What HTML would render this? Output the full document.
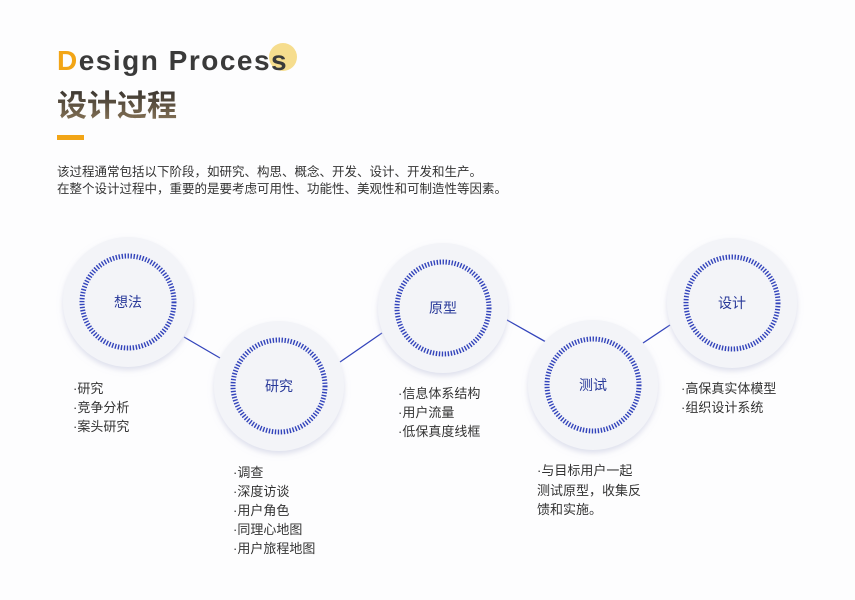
<!DOCTYPE html>
<html><head><meta charset="utf-8"><style>
body{margin:0;width:855px;height:600px;background:#fdfdfe;overflow:hidden;font-family:"Liberation Sans","Noto Sans CJK SC",sans-serif;}
svg{position:absolute;left:0;top:0}
.t{font-family:"Liberation Sans","Noto Sans CJK SC",sans-serif}
</style></head><body>
<svg width="855" height="600" viewBox="0 0 855 600">
<defs>
<linearGradient id="g" x1="0" y1="0" x2="0" y2="1"><stop offset="0" stop-color="#3a3530"/><stop offset="1" stop-color="#8a7658"/></linearGradient>
<filter id="sh" x="-30%" y="-30%" width="160%" height="160%"><feDropShadow dx="0" dy="3" stdDeviation="3" flood-color="#c8cbe0" flood-opacity="0.6"/></filter>
</defs>
<circle cx="283" cy="57" r="14" fill="#f6dd8e"/>
<text x="57" y="70" class="t" font-size="28" font-weight="bold" fill="#3a3a3a" letter-spacing="1.5"><tspan fill="#f2a516">D</tspan>esign  Process</text>
<text x="57" y="116" class="t" font-size="30" font-weight="bold" fill="url(#g)">设计过程</text>
<rect x="57" y="135" width="27" height="5" fill="#f2a516"/>
<text x="57" y="176" class="t" font-size="12.5" fill="#333">该过程通常包括以下阶段，如研究、构思、概念、开发、设计、开发和生产。</text>
<text x="57" y="193" class="t" font-size="12.5" fill="#333">在整个设计过程中，重要的是要考虑可用性、功能性、美观性和可制造性等因素。</text>
<g stroke="#3344bb" stroke-width="1.3">
<line x1="184" y1="337" x2="220" y2="358"/>
<line x1="340" y1="362" x2="382" y2="333"/>
<line x1="507" y1="320" x2="546" y2="342"/>
<line x1="643" y1="343" x2="670" y2="325"/>
</g>
<g fill="#f3f4f8" filter="url(#sh)">
<circle cx="128" cy="302" r="65"/>
<circle cx="279" cy="386" r="65"/>
<circle cx="443" cy="308" r="65"/>
<circle cx="593" cy="385" r="65"/>
<circle cx="732" cy="303" r="65"/>
</g>
<g fill="none" stroke="#3344bb" stroke-width="5" stroke-dasharray="1.4 1.6">
<circle cx="128" cy="302" r="46"/>
<circle cx="279" cy="386" r="46"/>
<circle cx="443" cy="308" r="46"/>
<circle cx="593" cy="385" r="46"/>
<circle cx="732" cy="303" r="46"/>
</g>
<g class="t" font-size="14" fill="#2a3a9a" text-anchor="middle">
<text x="128" y="307">想法</text>
<text x="279" y="391">研究</text>
<text x="443" y="313">原型</text>
<text x="593" y="390">测试</text>
<text x="732" y="308">设计</text>
</g>
<g class="t" font-size="13" fill="#333">
<text x="73" y="393">·研究</text><text x="73" y="412">·竞争分析</text><text x="73" y="431">·案头研究</text>
<text x="233" y="477">·调查</text><text x="233" y="496">·深度访谈</text><text x="233" y="515">·用户角色</text><text x="233" y="534">·同理心地图</text><text x="233" y="553">·用户旅程地图</text>
<text x="398" y="398">·信息体系结构</text><text x="398" y="417">·用户流量</text><text x="398" y="436">·低保真度线框</text>
<text x="537" y="475">·与目标用户一起</text><text x="537" y="495">测试原型，收集反</text><text x="537" y="514">馈和实施。</text>
<text x="681" y="393">·高保真实体模型</text><text x="681" y="412">·组织设计系统</text>
</g>
</svg>
</body></html>
